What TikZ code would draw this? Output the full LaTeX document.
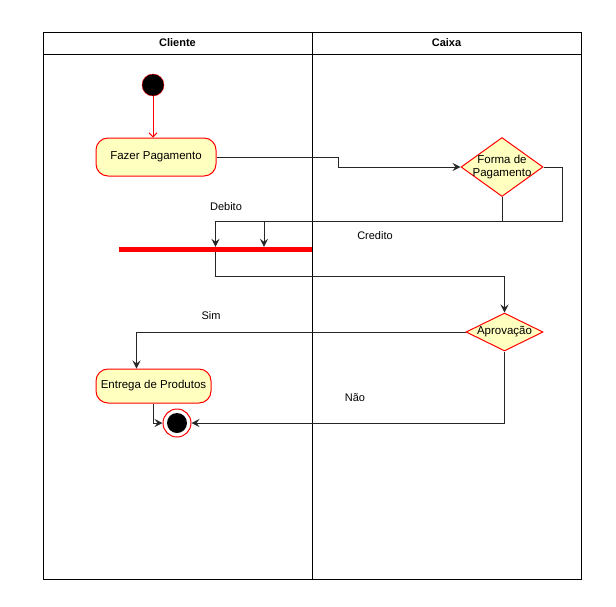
\documentclass[tikz,border=0pt]{standalone}
\usepackage{fontspec}
\setmainfont{Liberation Sans}
\usetikzlibrary{arrows.meta,positioning,shapes.geometric,calc}
\definecolor{acaofill}{HTML}{FFFFC0}
\tikzset{
	inicio/.style={circle,draw=red,fill=black,minimum size=22pt,inner sep=0},
	fim/.style={circle,draw=red,fill=white,minimum size=28pt,inner sep=0,line width=1pt,
		path picture={\fill[black] (path picture bounding box.center) circle (10pt);}},
	acao/.style={rectangle,rounded corners=12pt,draw=red,fill=acaofill,inner sep=0,line width=1pt,
		font=\fontsize{11.5}{13}\selectfont, text centered},
	decisao/.style={diamond,draw=red,fill=acaofill,inner sep=0,line width=1pt},
	barra/.style={rectangle,fill=red,inner sep=0,minimum width=193pt,minimum height=5pt},
	rotulo/.style={font=\fontsize{11}{13}\selectfont},
	raia/.style={font=\bfseries\fontsize{11}{13}\selectfont},
	diredge/.style={->,>={Stealth[width=8pt,length=8pt,inset=3pt]},color=black!85,line width=1pt},
	rededge/.style={->,>={Straight Barb[width=8pt,length=4pt]},color=red,line width=1pt}
}
\begin{document}
\begin{tikzpicture}[x=1pt,y=-1pt]
				\useasboundingbox (0,0) rectangle (616,606);
				%%%% raias
				\draw[line width=1pt] (43,32) rectangle (581,579);
				\draw[line width=1pt] (43,54) -- (581,54);
				\draw[line width=1pt] (312,32) -- (312,579);
				\node[raia] (cliente) at (177.5,43) {Cliente};
				\node[raia] (caixa) at (446.5,43) {Caixa};
				
				%%%% nos
				\node[inicio] (ini) at (153,85) {};
				\node[acao,minimum width=120pt,minimum height=38pt] (fazer) at (156,157) {Fazer Pagamento};
				\node[decisao,minimum width=82pt,minimum height=59pt,
					label={[font=\fontsize{11.5}{13}\selectfont,align=center]center:Forma de\\Pagamento}] (forma) at (502,167) {};
				\node[barra] (bar) at (215.5,249.5) {};
				\node[decisao,minimum width=77pt,minimum height=38pt,
					label={[font=\fontsize{11.5}{13}\selectfont]center:Aprovação}] (aprov) at (504.5,332) {};
				\node[acao,minimum width=115pt,minimum height=34pt] (entrega) at (153.5,386) {Entrega de Produtos};
				\node[fim] (final) at (177,423) {};
				
				%%%% rotulos
				\node[rotulo] (debito) at (226,207) {Debito};
				\node[rotulo] (credito) at (375,236) {Credito};
				\node[rotulo] (sim) at (211,316) {Sim};
				\node[rotulo] (nao) at (355,398) {Não};
				
				%%%% arestas
				\draw[rededge] (ini.south) -- (ini.south |- fazer.north);
				\draw[diredge] (fazer.east) -- (338,157) -- (338,167) -- (forma.west);
				\draw[diredge] (forma.south) -- (502,221) -| (bar.north);
				\draw[diredge] (forma.east) -- (562,167) -- (562,221) -| ([xshift=48.5pt]bar.north);
				\draw[diredge] (bar.south) -- ++(0,24) -| (aprov.north);
				\draw[diredge] (aprov.west) -| ([xshift=-17pt]entrega.north);
				\draw[diredge] (entrega.south) |- (final.west);
				\draw[diredge] (aprov.south) |- (final.east);
				
\end{tikzpicture}
\end{document}
